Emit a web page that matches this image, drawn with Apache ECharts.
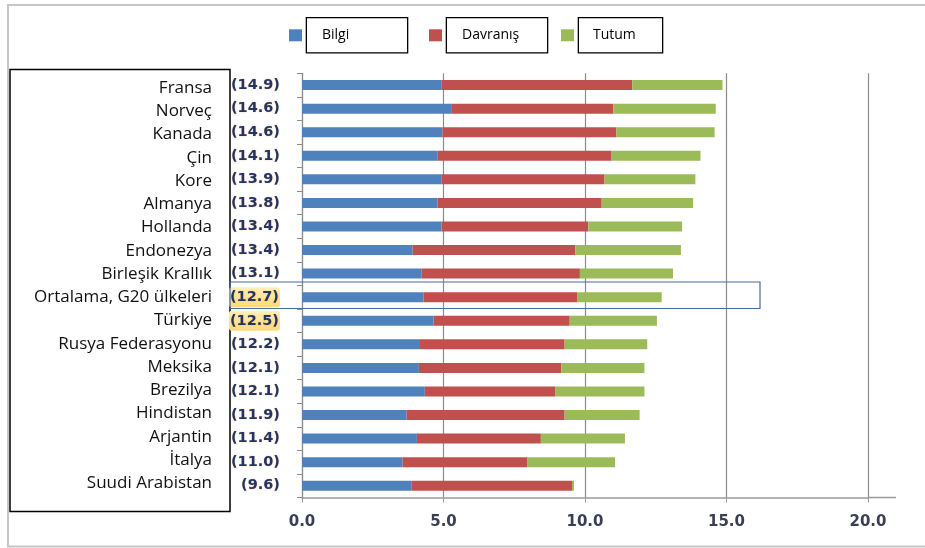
<!DOCTYPE html>
<html>
<head>
<meta charset="utf-8">
<script src="https://cdn.jsdelivr.net/npm/echarts@6/dist/echarts.min.js"></script>
<style>
html,body{margin:0;padding:0;background:#fff;}
#chart{width:925px;height:548px;}
</style>
</head>
<body>
<div id="chart"></div>
<script>
const categories = ['Fransa','Norveç','Kanada','Çin','Kore','Almanya','Hollanda','Endonezya','Birleşik Krallık','Ortalama, G20 ülkeleri','Türkiye','Rusya Federasyonu','Meksika','Brezilya','Hindistan','Arjantin','İtalya','Suudi Arabistan'];
const totalLabels = ['(14.9)','(14.6)','(14.6)','(14.1)','(13.9)','(13.8)','(13.4)','(13.4)','(13.1)','(12.7)','(12.5)','(12.2)','(12.1)','(12.1)','(11.9)','(11.4)','(11.0)','(9.6)'];
const highlighted = ['Ortalama, G20 ülkeleri','Türkiye'];
const bilgi    = [4.94,5.27,4.96,4.78,4.94,4.79,4.93,3.91,4.23,4.29,4.65,4.17,4.13,4.34,3.69,4.06,3.55,3.88];
const davranis = [6.73,5.73,6.15,6.16,5.75,5.80,5.19,5.75,5.59,5.43,4.81,5.11,5.03,4.62,5.59,4.38,4.42,5.66];
const tutum    = [3.19,3.62,3.47,3.14,3.21,3.23,3.31,3.73,3.29,2.99,3.08,2.92,2.94,3.14,2.65,2.97,3.09,0.07];
const seriesNames = ['Bilgi','Davranış','Tutum'];
const colors = ['#4F81BD','#C0504D','#9BBB59'];
const xTicks = {min:0, max:20, interval:5};

const chart = echarts.init(document.getElementById('chart'), null, {renderer:'canvas'});

function legendFor(name, left, textWidth, padLeft){
  return {
    data:[name], left:left, top:17, padding:0, orient:'horizontal',
    icon:'rect', itemWidth:13, itemHeight:12, selectedMode:false,
    textStyle:{
      fontFamily:'Open Sans', fontSize:14, color:'#000',
      backgroundColor:'#fff', borderColor:'#000', borderWidth:1.3,
      width:textWidth, height:16, lineHeight:16, padding:[9,6,9,padLeft]
    }
  };
}

const valStyle = {fontFamily:'DejaVu Sans', fontWeight:'bold', fontSize:14.5, color:'#243463',
  textShadowColor:'rgba(235,150,50,0.45)', textShadowBlur:2};

const option = {
  animation:false,
  backgroundColor:'#fff',
  color:colors,
  legend:[
    legendFor(seriesNames[0], 289, 79, 15),
    legendFor(seriesNames[1], 429, 79, 15),
    legendFor(seriesNames[2], 561, 63, 14)
  ],
  grid:[
    {left:302, right:57, top:73.3, bottom:50.5, containLabel:false},
    {left:212, width:10, top:76.4, bottom:53.1, containLabel:false}
  ],
  xAxis:[
    {
      type:'value', gridIndex:0, min:xTicks.min, max:xTicks.max, interval:xTicks.interval,
      axisLine:{show:true, lineStyle:{color:'#9a9a9a', width:1.5}},
      axisTick:{show:true, length:5, lineStyle:{color:'#9a9a9a'}},
      splitLine:{show:true, lineStyle:{color:'#8c8c8c', width:1.2}},
      axisLabel:{margin:17, fontFamily:'DejaVu Sans', fontWeight:'bold', fontSize:15, color:'#3a3f55',
        formatter:v=>v.toFixed(1)}
    },
    {type:'value', gridIndex:1, show:false}
  ],
  yAxis:[
    {
      type:'category', gridIndex:0, data:categories, inverse:true,
      axisLine:{show:true, lineStyle:{color:'#8c8c8c', width:1.2}},
      axisTick:{show:true, length:5, alignWithLabel:false, lineStyle:{color:'#8c8c8c'}},
      axisLabel:{show:false}
    },
    {
      type:'category', gridIndex:0, data:categories, inverse:true, position:'left',
      axisLine:{show:false}, axisTick:{show:false},
      axisLabel:{
        margin:22,
        formatter:(v, i)=> highlighted.indexOf(v) >= 0 ? '{hl|' + totalLabels[i] + '}' : '{n|' + totalLabels[i] + '}',
        rich:{
          n:Object.assign({}, valStyle),
          hl:Object.assign({}, valStyle, {
            backgroundColor:{type:'linear', x:0, y:0, x2:0, y2:1,
              colorStops:[{offset:0, color:'#FFF0B8'},{offset:1, color:'#FFD978'}]},
            borderRadius:3, padding:[3,1,2,1]})
        }
      }
    },
    {
      type:'category', gridIndex:1, data:categories, inverse:true,
      axisLine:{show:false}, axisTick:{show:false},
      axisLabel:{margin:0, fontFamily:'Open Sans', fontSize:17, color:'#111'}
    }
  ],
  series:[
    {name:seriesNames[0], type:'bar', stack:'t', data:bilgi, barWidth:10, xAxisIndex:0, yAxisIndex:0, itemStyle:{color:colors[0]}},
    {name:seriesNames[1], type:'bar', stack:'t', data:davranis, barWidth:10, xAxisIndex:0, yAxisIndex:0, itemStyle:{color:colors[1]}},
    {name:seriesNames[2], type:'bar', stack:'t', data:tutum, barWidth:10, xAxisIndex:0, yAxisIndex:0, itemStyle:{color:colors[2]}}
  ],
  graphic:[
    {type:'rect', z:-10, shape:{x:8, y:5, width:940, height:541.5}, style:{fill:'none', stroke:'#c6c6c6', lineWidth:2}},
    {type:'rect', z:0, shape:{x:10, y:69.5, width:220, height:442}, style:{fill:'none', stroke:'#000', lineWidth:1.5}},
    {type:'rect', z:100, shape:{x:230, y:282, width:530, height:26.5}, style:{fill:'none', stroke:'#4a6aa0', lineWidth:1.2}},
    {type:'line', z:0, shape:{x1:868, y1:497.5, x2:896, y2:497.5}, style:{stroke:'#9a9a9a', lineWidth:1.5}}
  ]
};
chart.setOption(option);
</script>
</body>
</html>
